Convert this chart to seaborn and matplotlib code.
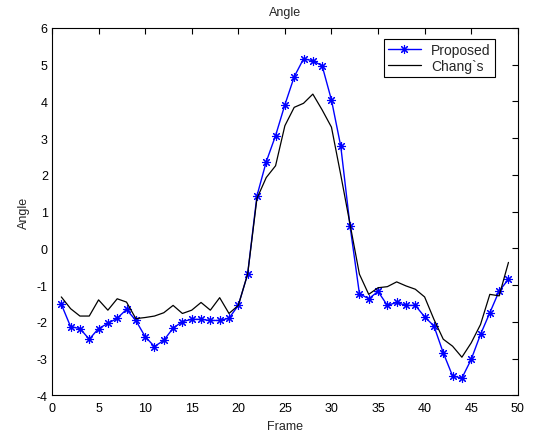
import numpy as np
import pandas as pd
import matplotlib
matplotlib.use('Agg')
import matplotlib.pyplot as plt
import seaborn as sns

frames = list(range(1, 50))

proposed = [-1.52, -2.13, -2.18, -2.47, -2.18, -2.04, -1.90, -1.66, -1.96, -2.40,
            -2.67, -2.50, -2.17, -1.99, -1.93, -1.93, -1.96, -1.96, -1.90, -1.55,
            -0.70, 1.43, 2.36, 3.07, 3.91, 4.67, 5.16, 5.11, 4.97, 4.04,
            2.78, 0.60, -1.23, -1.37, -1.17, -1.55, -1.47, -1.55, -1.55, -1.86,
            -2.11, -2.84, -3.47, -3.53, -3.02, -2.34, -1.75, -1.16, -0.84]

chang = [-1.32, -1.64, -1.84, -1.84, -1.40, -1.68, -1.37, -1.46, -1.91, -1.88,
         -1.84, -1.75, -1.55, -1.77, -1.68, -1.47, -1.68, -1.34, -1.77, -1.55,
         -0.70, 1.36, 1.93, 2.25, 3.34, 3.84, 3.95, 4.20, 3.77, 3.30,
         2.00, 0.65, -0.70, -1.25, -1.07, -1.04, -0.91, -1.02, -1.11, -1.32,
         -1.93, -2.47, -2.66, -2.96, -2.57, -2.07, -1.25, -1.29, -0.38]

sns.set_style('white')
plt.rcParams['font.family'] = ['Liberation Sans', 'DejaVu Sans']
plt.rcParams['font.size'] = 9
plt.rcParams['axes.unicode_minus'] = False

df = pd.DataFrame({'Frame': frames + frames,
                   'Angle': proposed + chang,
                   'method': ['Proposed'] * len(frames) + ['Chang`s'] * len(frames)})

fig = plt.figure(figsize=(5.36, 4.39), dpi=100)
ax = fig.add_axes([0.097, 0.097, 0.869, 0.837])

sns.lineplot(data=df[df.method == 'Proposed'], x='Frame', y='Angle', ax=ax,
             color='#0000ff', lw=1.0, marker=(8, 2, 0), markersize=6.5,
             markeredgecolor='#0000ff', markeredgewidth=0.8, label='Proposed')
sns.lineplot(data=df[df.method == 'Chang`s'], x='Frame', y='Angle', ax=ax,
             color='black', lw=0.9, label='Chang`s')

ax.set_xlim(0, 50)
ax.set_ylim(-4, 6)
ax.set_xticks(range(0, 51, 5))
ax.set_yticks(range(-4, 7))
ax.tick_params(direction='in', top=True, right=True, length=4, width=0.8,
               labelsize=9, colors='black')
ax.tick_params(axis='x', pad=5)
ax.tick_params(axis='y', pad=3)
for s in ax.spines.values():
    s.set_color('black')
    s.set_linewidth(0.8)
ax.set_xlabel('Frame', fontsize=9, labelpad=4)
ax.set_ylabel('Angle', fontsize=9, labelpad=5)
ax.set_title('Angle', fontsize=9, pad=9)

leg = ax.legend(loc='upper right', bbox_to_anchor=(0.965, 0.99), fancybox=False,
                framealpha=1, edgecolor='black', fontsize=10, handlelength=2.4,
                borderpad=0.3, labelspacing=0.15, handletextpad=0.7)
leg.get_frame().set_linewidth(0.8)

fig.savefig('out.png', dpi=100)
